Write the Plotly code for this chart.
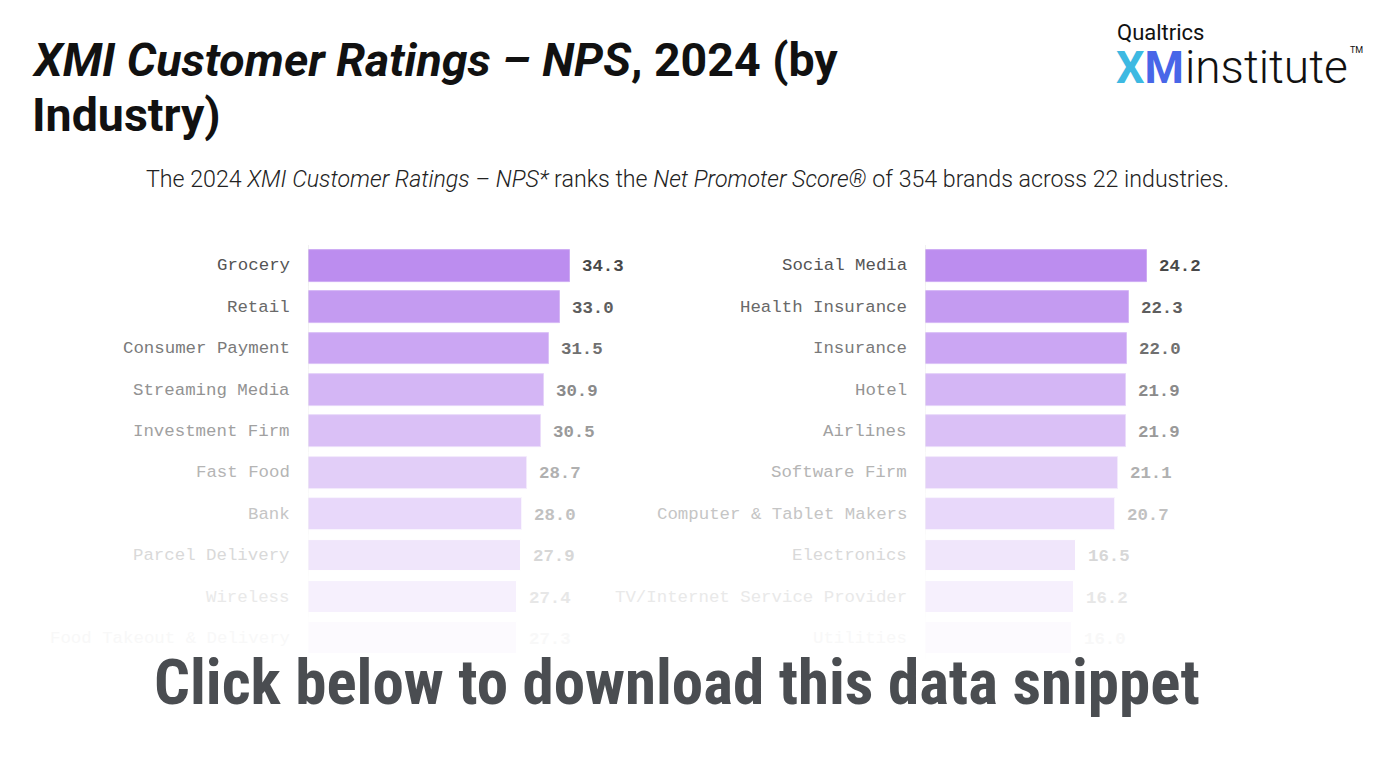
import plotly.graph_objects as go

# ---------------- data ----------------
left_categories = ["Grocery", "Retail", "Consumer Payment", "Streaming Media", "Investment Firm",
                   "Fast Food", "Bank", "Parcel Delivery", "Wireless", "Food Takeout & Delivery"]
left_values = [34.3, 33.0, 31.5, 30.9, 30.5, 28.7, 28.0, 27.9, 27.4, 27.3]

right_categories = ["Social Media", "Health Insurance", "Insurance", "Hotel", "Airlines",
                    "Software Firm", "Computer & Tablet Makers", "Electronics",
                    "TV/Internet Service Provider", "Utilities"]
right_values = [24.2, 22.3, 22.0, 21.9, 21.9, 21.1, 20.7, 16.5, 16.2, 16.0]

# fade toward white for each row (style, not data)
row_fade = [0.0, 0.12, 0.22, 0.36, 0.45, 0.57, 0.66, 0.78, 0.87, 0.96]

OFF = 8  # page body margin
W, H = 1378 - 2 * OFF, 771 - 2 * OFF
BAR_BASE = (188, 141, 239)
LABEL_BASE = (84, 84, 84)
VALUE_BASE = (72, 72, 72)
AXIS_BASE = (228, 228, 228)


def fade(rgb, f):
    r, g, b = (int(round(c + (255 - c) * f)) for c in rgb)
    return f"rgb({r},{g},{b})"


def px_x(p):
    return (p - OFF) / W


def px_y(p):
    return 1 - (p - OFF) / H


# geometry (window pixels)
row0_center, row_step = 265.8, 41.4
n_rows = len(left_categories)
y_top = row0_center - 0.5 * row_step
y_bot = row0_center + (n_rows - 0.5) * row_step

L0, L1, L_scale = 308, 640, 7.64
R0, R1, R_scale = 925, 1260, 9.17

mono = "Liberation Mono, DejaVu Sans Mono, monospace"

fig = go.Figure()

panels = [
    (left_categories, left_values, "x", "x"),
    (right_categories, right_values, "x2", "x2"),
]

annotations = []
shapes = []

for cats, vals, xa, xref in panels:
    rows = list(range(len(cats)))
    fig.add_trace(go.Bar(
        x=vals, y=rows, orientation="h", xaxis=xa, yaxis="y",
        width=0.77,
        marker=dict(color=[fade(BAR_BASE, row_fade[i]) for i in rows],
                    line=dict(color=[fade(BAR_BASE, min(1, row_fade[i] + 0.25)) for i in rows], width=1)),
        hoverinfo="skip", showlegend=False,
    ))
    for i, (c, v) in enumerate(zip(cats, vals)):
        annotations.append(dict(
            x=0, y=i, xref=xref, yref="y", xanchor="right", yanchor="middle",
            xshift=-16, text=c, showarrow=False,
            font=dict(family=mono, size=17.4, color=fade(LABEL_BASE, row_fade[i])),
        ))
        annotations.append(dict(
            x=v, y=i, xref=xref, yref="y", xanchor="left", yanchor="middle",
            xshift=10, yshift=-1, text=f"<b>{v:.1f}</b>", showarrow=False,
            font=dict(family=mono, size=17.4, color=fade(VALUE_BASE, row_fade[i])),
        ))
        shapes.append(dict(
            type="line", xref=xref, yref="y", x0=0, x1=0,
            y0=i - 0.6 if i == 0 else i - 0.5, y1=i + 0.5,
            line=dict(color=fade(AXIS_BASE, row_fade[i]), width=1),
        ))

title_font = dict(family="Roboto", size=46.5, color="#111111")
annotations += [
    dict(x=px_x(30), y=px_y(60), xref="paper", yref="paper", xanchor="left", yanchor="middle",
         align="left", showarrow=False,
         text="<b><i>XMI Customer Ratings – NPS</i>, 2024 (by</b>", font=title_font),
    dict(x=px_x(30), y=px_y(115), xref="paper", yref="paper", xanchor="left", yanchor="middle",
         align="left", showarrow=False,
         text="<b>Industry)</b>", font=title_font),
    dict(x=px_x(687), y=px_y(179), xref="paper", yref="paper", xanchor="center", yanchor="middle",
         showarrow=False,
         text="The 2024 <i>XMI Customer Ratings – NPS*</i> ranks the <i>Net Promoter Score®</i> of 354 brands across 22 industries.",
         font=dict(family="Roboto", size=23.2, color="#222222", weight=300)),
    dict(x=px_x(677), y=px_y(682), xref="paper", yref="paper", xanchor="center", yanchor="middle",
         showarrow=False,
         text="<b>Click below to download this data snippet</b>",
         font=dict(family="Liberation Sans Narrow, Roboto Condensed, Roboto", size=63, color="#4a4d51")),
    # logo
    dict(x=px_x(1115), y=px_y(33), xref="paper", yref="paper", xanchor="left", yanchor="middle",
         showarrow=False, text="Qualtrics",
         font=dict(family="Roboto", size=22, color="#111111")),
    dict(x=px_x(1114), y=px_y(67), xref="paper", yref="paper", xanchor="left", yanchor="middle",
         showarrow=False,
         text="<b><span style='color:#3db9e2'>X</span><span style='color:#4866e8'>M</span></b>",
         font=dict(family="Roboto", size=45)),
    dict(x=px_x(1183), y=px_y(67), xref="paper", yref="paper", xanchor="left", yanchor="middle",
         showarrow=False, text="institute",
         font=dict(family="Roboto", size=46, color="#111111", weight=300)),
    dict(x=px_x(1348), y=px_y(50), xref="paper", yref="paper", xanchor="left", yanchor="middle",
         showarrow=False, text="TM",
         font=dict(family="Roboto", size=9, color="#111111")),
]

fig.update_layout(
    width=W, height=H,
    margin=dict(l=0, r=0, t=0, b=0),
    paper_bgcolor="white", plot_bgcolor="white",
    showlegend=False,
    bargap=0,
    xaxis=dict(domain=[px_x(L0), px_x(L1)], range=[0, (L1 - L0) / L_scale], visible=False,
               anchor="y", fixedrange=True),
    xaxis2=dict(domain=[px_x(R0), px_x(R1)], range=[0, (R1 - R0) / R_scale], visible=False,
                anchor="y", fixedrange=True),
    yaxis=dict(domain=[px_y(y_bot), px_y(y_top)], range=[n_rows - 0.5, -0.5], visible=False,
               fixedrange=True),
    annotations=annotations,
    shapes=shapes,
)

fig.write_html("out.html")
